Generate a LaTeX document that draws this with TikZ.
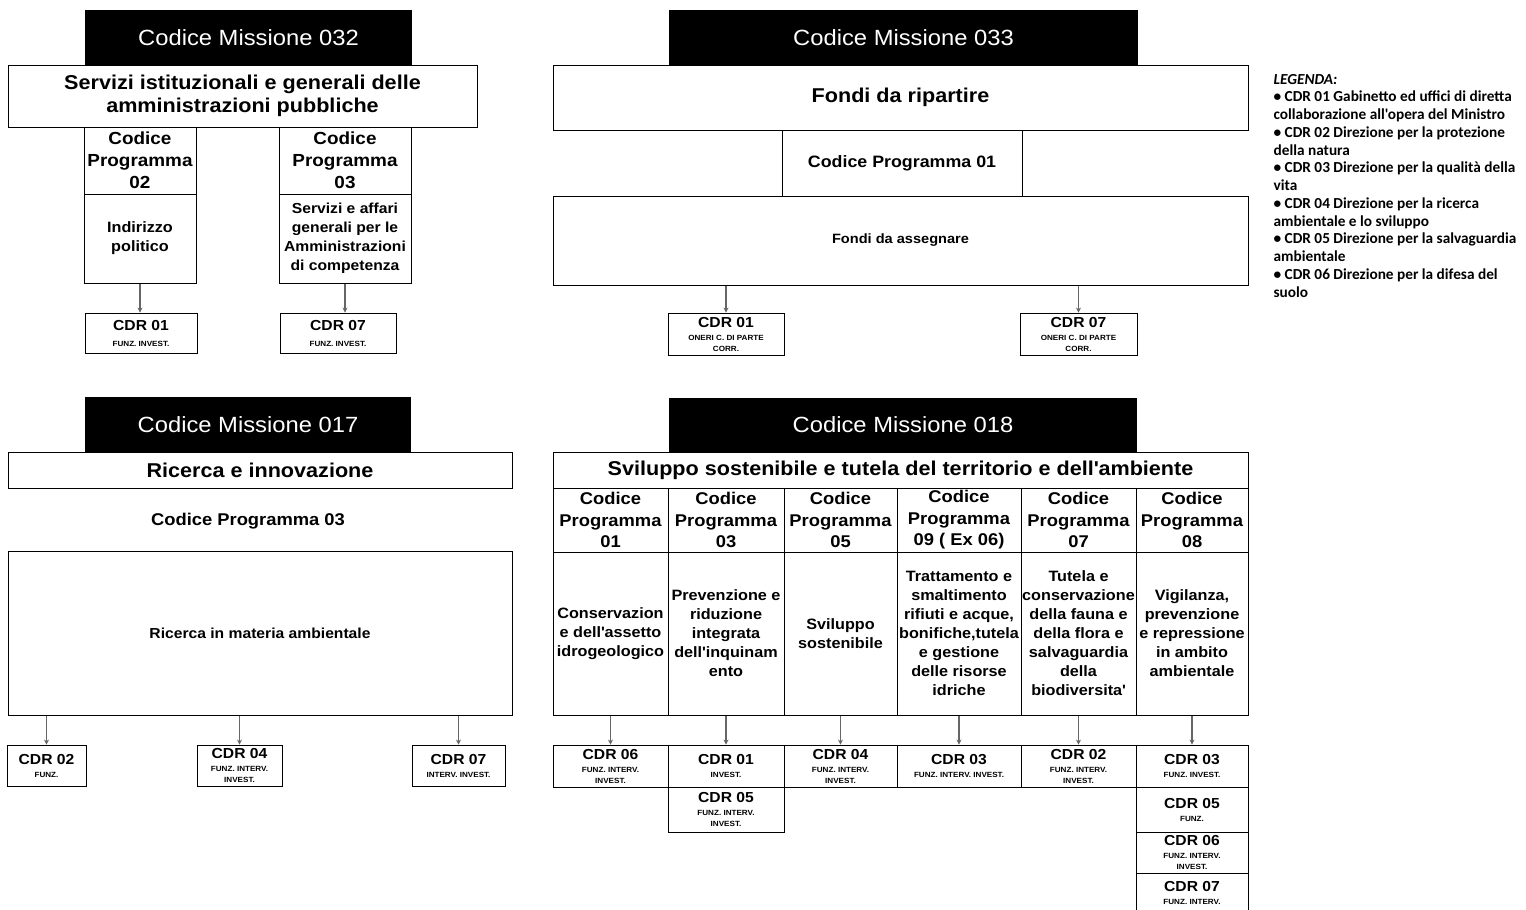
\documentclass[tikz,border=0pt]{standalone}
\usepackage{fontspec}
\setmainfont{Liberation Sans}[FakeStretch=1.08]
\newfontfamily\legfont{Carlito}
\usetikzlibrary{arrows.meta}

\newcommand{\fs}[2]{\fontsize{#1}{#2}\selectfont}
\newcommand{\cdrtxt}[3][2pt]{{\fs{14.5}{15}CDR #2}\\[#1]#3}
\newcommand{\ap}{\textquotesingle}

\tikzset{
  mhead/.style={fill=black, text=white, inner sep=0pt, font=\fs{22}{26}},
  mtitle/.style={draw, fill=white, line width=1pt, inner sep=0pt, align=center, font=\bfseries\fs{20}{23}},
  phead/.style={draw, line width=1pt, inner sep=0pt, align=center, font=\bfseries\fs{17.5}{22}},
  pbody/.style={draw, line width=1pt, inner sep=0pt, align=center, font=\bfseries\fs{15}{19}},
  cdr/.style={draw, line width=0.8pt, inner sep=0pt, align=center, font=\bfseries\fs{7.5}{11}},
  legtxt/.style={inner sep=0pt, anchor=base west, font=\legfont\bfseries\fs{15.3}{17}},
}

\begin{document}
\begin{tikzpicture}[x=1pt,y=-1pt]
    \path[use as bounding box, fill=white] (0,0) rectangle (1526,910);

    % Missione 032
    \node[mhead, minimum width=327pt, minimum height=55pt] (m32) at (248.5,37.5) {Codice Missione 032};
    \node[mtitle, minimum width=469pt, minimum height=62pt] (t32) at (242.5,96) {Servizi istituzionali e generali delle\\amministrazioni pubbliche};
    \node[phead, minimum width=112pt, minimum height=67pt] (p32a) at (140,160.5) {Codice\\Programma\\02};
    \node[pbody, minimum width=112pt, minimum height=89pt] (b32a) at (140,238.5) {Indirizzo\\politico};
    \node[phead, minimum width=132pt, minimum height=67pt] (p32b) at (345,160.5) {Codice\\Programma\\03};
    \node[pbody, minimum width=132pt, minimum height=89pt, font=\bfseries\fs{14.5}{19}] (b32b) at (345,238.5) {Servizi e affari\\generali per le\\Amministrazioni\\di competenza};
    \node[cdr, minimum width=112pt, minimum height=40pt] (c32a) at (141,333) {\cdrtxt[5pt]{01}{FUNZ. INVEST.}};
    \node[cdr, minimum width=116pt, minimum height=40pt] (c32b) at (338,333) {\cdrtxt[5pt]{07}{FUNZ. INVEST.}};

    % Missione 033
    \node[mhead, minimum width=469pt, minimum height=55pt] (m33) at (903.5,37.5) {Codice Missione 033};
    \node[mtitle, minimum width=695pt, minimum height=65pt] (t33) at (900.5,97.5) {Fondi da ripartire};
    \node[phead, minimum width=240pt, minimum height=66pt, font=\bfseries\fs{16.5}{20}] (p33) at (902,163) {Codice Programma 01};
    \node[pbody, minimum width=695pt, minimum height=89pt, font=\bfseries\fs{13.5}{16}] (b33) at (900.5,240.5) {Fondi da assegnare};
    \node[cdr, minimum width=116pt, minimum height=42pt] (c33a) at (726,334) {\cdrtxt{01}{ONERI C. DI PARTE\\CORR.}};
    \node[cdr, minimum width=117pt, minimum height=42pt] (c33b) at (1078.5,334) {\cdrtxt{07}{ONERI C. DI PARTE\\CORR.}};

    % Missione 017
    \node[mhead, minimum width=326pt, minimum height=55pt] (m17) at (248,424.5) {Codice Missione 017};
    \node[mtitle, minimum width=504pt, minimum height=36pt] (t17) at (260,470) {Ricerca e innovazione};
    \node[inner sep=0pt, font=\bfseries\fs{17}{20}] (p17) at (248,521) {Codice Programma 03};
    \node[pbody, minimum width=504pt, minimum height=164pt, font=\bfseries\fs{14.5}{18}] (b17) at (260,633) {Ricerca in materia ambientale};
    \node[cdr, minimum width=79pt, minimum height=41pt] (c17a) at (46.5,765.5) {\cdrtxt{02}{FUNZ.}};
    \node[cdr, minimum width=85pt, minimum height=41pt] (c17b) at (239.5,765.5) {\cdrtxt{04}{FUNZ. INTERV.\\INVEST.}};
    \node[cdr, minimum width=93pt, minimum height=41pt] (c17c) at (458.5,765.5) {\cdrtxt{07}{INTERV. INVEST.}};

    % Missione 018
    \node[mhead, minimum width=468pt, minimum height=54pt] (m18) at (903,425) {Codice Missione 018};
    \node[mtitle, minimum width=695pt, minimum height=36pt] (t18) at (900.5,470) {Sviluppo sostenibile e tutela del territorio e dell\ap ambiente};
    \foreach \i/\xa/\xb/\num/\desc in {
        1/553/668/01/{Conservazion\\e dell\ap assetto\\idrogeologico},
        2/668/784/03/{Prevenzione e\\riduzione\\integrata\\dell\ap inquinam\\ento},
        3/784/897/05/{Sviluppo\\sostenibile},
        4/897/1021/{09 ( Ex 06)}/{Trattamento e\\smaltimento\\rifiuti e acque,\\bonifiche,tutela\\e gestione\\delle risorse\\idriche},
        5/1021/1136/07/{Tutela e\\conservazione\\della fauna e\\della flora e\\salvaguardia\\della\\biodiversita\ap},
        6/1136/1248/08/{Vigilanza,\\prevenzione\\e repressione\\in ambito\\ambientale}}{
      \node[phead, minimum width={(\xb-\xa)*1pt}, minimum height=64pt, font=\bfseries\fs{17}{21.5}] (p18\i) at ({(\xa+\xb)/2},520) {Codice\\Programma\\\num};
      \node[pbody, minimum width={(\xb-\xa)*1pt}, minimum height=163pt] (b18\i) at ({(\xa+\xb)/2},633.5) {\desc};
    }
    \node[cdr, minimum width=115pt, minimum height=42pt] (c181) at (610.5,766) {\cdrtxt{06}{FUNZ. INTERV.\\INVEST.}};
    \node[cdr, minimum width=116pt, minimum height=42pt] (c182) at (726,766) {\cdrtxt{01}{INVEST.}};
    \node[cdr, minimum width=116pt, minimum height=45pt] (c182b) at (726,809.5) {\cdrtxt{05}{FUNZ. INTERV.\\INVEST.}};
    \node[cdr, minimum width=113pt, minimum height=42pt] (c183) at (840.5,766) {\cdrtxt{04}{FUNZ. INTERV.\\INVEST.}};
    \node[cdr, minimum width=124pt, minimum height=42pt] (c184) at (959,766) {\cdrtxt{03}{FUNZ. INTERV. INVEST.}};
    \node[cdr, minimum width=115pt, minimum height=42pt] (c185) at (1078.5,766) {\cdrtxt{02}{FUNZ. INTERV.\\INVEST.}};
    \node[cdr, minimum width=112pt, minimum height=42pt] (c186) at (1192,766) {\cdrtxt{03}{FUNZ. INVEST.}};
    \node[cdr, minimum width=112pt, minimum height=45pt] (c186b) at (1192,809.5) {\cdrtxt{05}{FUNZ.}};
    \node[cdr, minimum width=112pt, minimum height=41pt] (c186c) at (1192,852.5) {\cdrtxt{06}{FUNZ. INTERV.\\INVEST.}};
    \node[cdr, minimum width=112pt, minimum height=40pt] (c186d) at (1192,893) {\cdrtxt{07}{FUNZ. INTERV.}};

    % Edges
    \tikzset{every path/.append style={draw=black!60, line width=1.2pt, -{Stealth[length=5pt,width=5pt]}}}
    \foreach \p in {32a,32b} \draw (b\p.south) -- (b\p.south |- c\p.north);
    \foreach \p in {33a,33b} \draw (b33.south -| c\p.north) -- (c\p.north);
    \foreach \p in {17a,17b,17c} \draw (b17.south -| c\p.north) -- (c\p.north);
    \foreach \i in {1,...,6} \draw (b18\i.south) -- (c18\i.north);

    % Legenda
    \node[legtxt, font=\legfont\bfseries\itshape\fs{15.3}{17}] (leg0) at (1273,84) {LEGENDA:};
    \foreach \t [count=\k] in {
        • CDR 01 Gabinetto ed uffici di diretta,
        collaborazione all'opera del Ministro,
        • CDR 02 Direzione per la protezione,
        della natura,
        • CDR 03 Direzione per la qualità della,
        vita,
        • CDR 04 Direzione per la ricerca,
        ambientale e lo sviluppo,
        • CDR 05 Direzione per la salvaguardia,
        ambientale,
        • CDR 06 Direzione per la difesa del,
        suolo}
      \node[legtxt] (leg\k) at (1273,{84+17.75*\k}) {\t};

\end{tikzpicture}
\end{document}
